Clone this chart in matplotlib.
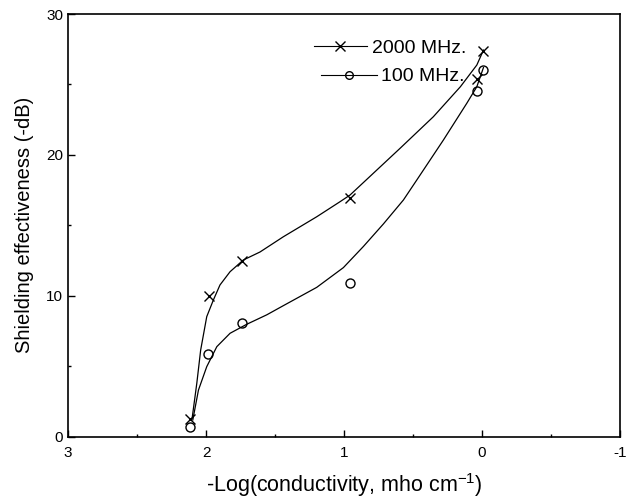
import numpy as np
import matplotlib
matplotlib.use("Agg")
import matplotlib.pyplot as plt
from matplotlib.lines import Line2D
from matplotlib.ticker import MultipleLocator

plt.rcParams['font.family'] = ['Liberation Sans', 'DejaVu Sans']
plt.rcParams['mathtext.default'] = 'regular'
plt.rcParams['axes.unicode_minus'] = False

# measured points
x_2000 = [2.116, 1.976, 1.737, 0.957, 0.038, -0.005]
y_2000 = [1.25, 9.98, 12.49, 16.96, 25.4, 27.4]
x_100 = [2.116, 1.983, 1.741, 0.957, 0.034, -0.005]
y_100 = [0.69, 5.85, 8.09, 10.93, 24.56, 26.05]

# fitted curves
cx_2000 = [2.101, 2.067, 2.039, 1.995, 1.947, 1.899, 1.826, 1.73, 1.609, 1.44,
           1.198, 1.029, 0.957, 0.594, 0.353, 0.157, 0.038, -0.01]
cy_2000 = [1.30, 3.79, 6.15, 8.52, 9.70, 10.77, 11.71, 12.54, 13.11, 14.19,
           15.61, 16.68, 17.15, 20.47, 22.71, 24.84, 26.38, 27.44]
cx_100 = [2.096, 2.055, 1.995, 1.922, 1.826, 1.705, 1.56, 1.44, 1.198, 1.005,
          0.86, 0.715, 0.57, 0.473, 0.28, 0.111, 0.038, -0.01]
cy_100 = [1.19, 3.31, 4.97, 6.39, 7.34, 7.98, 8.65, 9.3, 10.6, 12.0,
          13.5, 15.1, 16.8, 18.22, 21.06, 23.66, 24.84, 26.2]

fig = plt.figure(figsize=(6.27, 5.0), dpi=100)
ax = fig.add_axes([0.1085, 0.1266, 0.8805, 0.8454])

ax.plot(cx_2000, cy_2000, color='black', lw=0.9)
ax.plot(cx_100, cy_100, color='black', lw=0.9)
ax.plot(x_2000, y_2000, linestyle='none', marker='x', ms=7, mew=1.0, color='black')
ax.plot(x_100, y_100, linestyle='none', marker='o', ms=6.5, mew=1.0,
        mfc='none', mec='black')

ax.set_xlim(3, -1)
ax.set_ylim(0, 30)
ax.xaxis.set_major_locator(MultipleLocator(1))
ax.xaxis.set_minor_locator(MultipleLocator(0.5))
ax.yaxis.set_major_locator(MultipleLocator(10))
ax.yaxis.set_minor_locator(MultipleLocator(5))
ax.tick_params(which='both', direction='in', top=False, right=False,
               labelsize=11, width=1.0)
ax.tick_params(which='major', length=5)
ax.tick_params(axis='x', which='major', pad=7)
ax.tick_params(which='minor', length=2.5)
for s in ax.spines.values():
    s.set_linewidth(1.2)

ax.set_xlabel('-Log(conductivity, mho cm$^{-1}$)', fontsize=15.5, labelpad=8)
ax.set_ylabel('Shielding effectiveness (-dB)', fontsize=14.5, labelpad=9)

h1 = Line2D([], [], color='black', lw=0.8, marker='x', ms=6.5, mew=1.0)
h2 = Line2D([], [], color='black', lw=0.8, marker='o', ms=5.5, mew=1.0, mfc='none')
leg1 = ax.legend([h1], ['2000 MHz.'], frameon=False, fontsize=14,
                 loc='center left', bbox_to_anchor=(0.428, 0.919),
                 handlelength=2.7, handletextpad=0.3, borderpad=0)
ax.add_artist(leg1)
ax.legend([h2], ['100 MHz.'], frameon=False, fontsize=14,
          loc='center left', bbox_to_anchor=(0.44, 0.852),
          handlelength=2.9, handletextpad=0.2, borderpad=0)

fig.savefig('out.png', dpi=100)
